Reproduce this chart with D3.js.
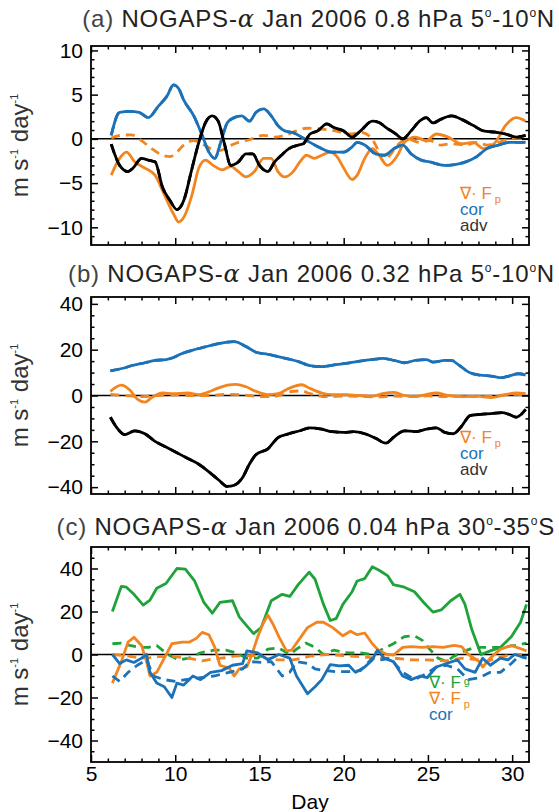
<!DOCTYPE html>
<html>
<head>
<meta charset="utf-8">
<script src="https://cdn.jsdelivr.net/npm/d3@7"></script>
<style>
body { margin: 0; background: #fff; }
text { font-family: "Liberation Sans", Arial, Helvetica, sans-serif; }
</style>
</head>
<body>
<div id="chart"></div>
<script>
var width = 559, height = 812;

// x axis: days of Jan 2006
var dayDomain = [5, 31];
var dayTicks = [5, 10, 15, 20, 25, 30];

// ---- panel (a) 0.8 hPa 5-10N ----
var aCor = [[6.2,0.4],[6.7,3.0],[7.3,3.1],[7.85,3.0],[8.4,2.4],[9.0,3.7],[9.5,4.8],[9.9,6.1],[10.2,5.7],[10.5,4.4],[11.1,2.6],[11.6,0.4],[12.0,-1.5],[12.35,-2.2],[12.7,-0.4],[13.1,1.85],[13.5,2.4],[13.95,2.6],[14.4,2.0],[14.8,3.0],[15.25,3.4],[15.7,2.6],[16.1,1.5],[16.5,0.9],[17.0,0.7],[17.5,0.2],[18.0,-0.4],[18.7,-1.1],[19.3,-1.5],[20.0,-1.5],[20.5,-0.9],[20.8,-0.4],[21.25,-0.7],[21.9,-1.7],[22.4,-1.85],[23.0,-1.1],[23.5,-0.7],[24.0,-1.7],[24.6,-2.4],[25.1,-2.6],[26.0,-3.0],[26.6,-2.9],[27.25,-2.6],[27.9,-2.0],[28.5,-1.1],[29.2,-0.7],[29.8,-0.4],[30.8,-0.4]];
var aAdv = [[6.2,-0.6],[6.7,-3.0],[7.2,-3.7],[7.5,-3.3],[8.0,-2.2],[8.4,-2.4],[8.8,-2.6],[9.25,-5.5],[9.7,-7.0],[10.1,-8.0],[10.5,-7.0],[11.0,-3.3],[11.4,-0.4],[11.8,1.85],[12.2,2.6],[12.55,2.0],[12.9,-0.4],[13.3,-3.0],[13.75,-2.6],[14.2,-1.7],[14.6,-1.7],[15.0,-3.0],[15.5,-3.7],[15.9,-2.6],[16.3,-1.85],[16.75,-1.1],[17.3,-0.7],[17.6,-0.55],[18.0,0.55],[18.45,0.9],[19.0,1.7],[19.4,1.3],[20.0,0.9],[20.5,0.2],[21.0,0.9],[21.7,2.0],[22.1,1.85],[22.5,1.3],[23.1,0.55],[23.5,0.0],[24.0,0.9],[24.5,2.0],[24.9,2.4],[25.3,1.8],[25.75,2.2],[26.4,2.6],[27.0,2.2],[27.7,1.5],[28.3,0.9],[29.0,0.75],[29.6,0.55],[30.25,0.2],[30.8,0.4]];
var aFp = [[6.2,-4.1],[6.7,-2.2],[7.1,-1.5],[7.6,-2.6],[8.2,-3.3],[8.8,-4.1],[9.35,-6.3],[9.9,-8.5],[10.2,-9.4],[10.5,-8.9],[11.0,-6.3],[11.4,-3.3],[11.8,-2.4],[12.25,-3.0],[12.8,-3.5],[13.3,-3.1],[13.75,-3.7],[14.2,-4.3],[14.7,-3.7],[15.25,-2.2],[15.7,-2.2],[16.1,-3.7],[16.5,-4.3],[17.0,-3.7],[17.4,-2.6],[17.8,-1.85],[18.25,-2.2],[18.7,-1.85],[19.2,-1.5],[19.6,-2.0],[20.0,-3.3],[20.5,-4.6],[20.8,-4.1],[21.25,-2.2],[21.7,-1.1],[22.1,-1.85],[22.6,-3.0],[23.2,-1.85],[23.6,-0.4],[24.25,0.2],[24.9,-0.2],[25.5,0.55],[26.2,0.2],[27.0,-0.55],[27.7,-0.4],[28.3,-1.1],[29.0,-0.4],[29.6,1.5],[30.25,2.4],[30.8,2.0]];
var aFpDash = [[6.2,0.1],[6.8,0.4],[7.4,0.45],[8.0,-0.2],[8.6,-1.1],[9.25,-1.85],[9.7,-2.0],[10.1,-1.5],[10.5,-0.7],[11.1,-0.2],[11.6,-0.55],[12.1,-1.1],[12.7,-1.3],[13.1,-0.9],[13.75,-0.4],[14.4,-0.1],[15.25,0.4],[15.9,0.2],[16.5,0.4],[17.2,0.9],[17.8,1.2],[18.7,1.1],[19.5,0.9],[20.4,0.55],[21.0,0.75],[21.6,0.2],[22.0,-1.1],[22.4,-2.6],[22.75,-1.85],[23.2,-0.7],[23.8,0.0],[24.5,-0.4],[25.1,-0.2],[25.75,-0.7],[26.4,-0.55],[27.25,-0.7],[27.9,-0.4],[28.5,-0.7],[29.2,-0.4],[29.8,0.0],[30.5,0.2],[30.8,0.0]];

// ---- panel (b) 0.32 hPa 5-10N ----
var bCor = [[6.15,10.8],[6.9,11.9],[7.5,13.2],[8.2,14.3],[8.8,15.3],[9.45,15.7],[9.9,16.6],[10.3,18.0],[11.0,19.7],[11.6,20.9],[12.25,22.1],[12.9,23.1],[13.5,23.5],[14.2,21.4],[14.8,18.9],[15.5,18.0],[16.1,17.0],[16.75,15.9],[17.4,14.6],[18.0,13.0],[18.7,12.6],[19.3,13.2],[20.0,13.9],[20.6,14.6],[21.25,15.3],[21.9,15.9],[22.3,16.2],[23.0,15.3],[23.6,14.3],[24.25,15.3],[24.9,15.7],[25.3,14.6],[26.0,15.3],[26.4,15.3],[26.8,13.5],[27.5,9.9],[28.1,8.9],[28.75,8.5],[29.4,7.8],[29.8,8.5],[30.4,9.5],[30.8,8.9]];
var bAdv = [[6.15,-9.5],[6.6,-14.7],[7.0,-17.1],[7.6,-15.4],[8.2,-16.7],[8.8,-20.0],[9.45,-22.5],[10.1,-25.0],[10.75,-27.5],[11.4,-30.0],[12.0,-33.3],[12.6,-37.0],[13.1,-39.7],[13.5,-39.2],[14.0,-35.8],[14.4,-30.0],[14.8,-25.8],[15.5,-23.3],[16.1,-18.4],[16.75,-16.7],[17.4,-15.4],[18.0,-14.1],[18.7,-14.7],[19.3,-15.8],[20.0,-16.1],[20.6,-15.8],[21.25,-16.7],[21.9,-18.7],[22.5,-20.8],[23.0,-18.0],[23.6,-15.4],[24.25,-15.8],[24.9,-14.7],[25.5,-14.1],[26.0,-16.1],[26.5,-16.7],[27.0,-13.4],[27.5,-8.8],[28.1,-8.2],[28.75,-7.9],[29.4,-7.5],[29.8,-8.2],[30.25,-9.5],[30.8,-6.1]];
var bFp = [[6.15,1.8],[6.8,4.5],[7.3,2.4],[7.75,-1.6],[8.2,-2.9],[8.6,-0.9],[9.25,1.1],[9.9,0.8],[10.75,1.1],[11.4,0.4],[11.8,1.1],[12.5,3.1],[13.1,4.5],[13.6,4.9],[14.2,3.8],[14.8,1.8],[15.5,0.4],[16.1,0.8],[16.75,3.1],[17.5,4.7],[18.0,3.1],[18.7,1.1],[19.3,0.4],[20.2,0.4],[20.8,0.0],[21.7,-0.3],[22.3,0.8],[23.0,1.4],[23.6,0.0],[24.25,-0.5],[24.9,0.4],[25.5,1.1],[26.2,0.0],[27.0,-0.5],[27.9,-0.3],[28.75,-0.9],[29.6,0.4],[30.25,1.1],[30.8,0.8]];
var bFpDash = [[6.15,0.5],[7.0,0.0],[8.0,-0.5],[9.0,0.0],[10.0,0.3],[11.0,0.0],[12.0,0.0],[13.0,0.5],[14.0,0.3],[15.0,-0.5],[16.0,-0.3],[16.75,1.5],[17.5,2.0],[18.0,0.8],[19.0,-0.5],[20.0,-0.3],[21.0,-0.4],[22.0,-0.6],[23.0,-0.3],[24.0,-0.5],[25.0,-0.2],[26.0,-0.5],[27.0,-0.3],[28.0,-0.5],[29.0,-0.2],[30.0,0.5],[30.8,0.3]];

// ---- panel (c) 0.04 hPa 30-35S ----
var cFg = [[6.27,20.0],[6.8,31.7],[7.1,31.3],[7.55,28.0],[8.1,23.0],[8.5,25.3],[8.9,30.8],[9.45,33.0],[10.1,40.0],[10.6,39.7],[11.15,34.2],[11.7,24.2],[12.2,19.2],[12.65,24.2],[13.4,25.0],[13.8,17.5],[14.25,13.3],[14.65,9.7],[15.1,12.5],[15.7,25.0],[16.35,28.0],[16.8,27.0],[17.3,32.5],[17.95,38.3],[18.3,35.0],[18.8,23.3],[19.2,15.8],[19.55,16.7],[19.95,23.3],[20.5,29.2],[20.8,34.2],[21.25,35.3],[21.7,40.8],[22.1,39.2],[22.6,36.7],[22.95,32.5],[23.6,31.3],[24.2,29.2],[24.75,24.2],[25.3,19.7],[25.8,20.8],[26.35,25.0],[26.9,28.0],[27.2,23.3],[27.6,11.7],[28.15,0.0],[28.7,1.7],[29.3,3.3],[29.95,8.3],[30.5,15.0],[30.85,23.3]];
var cFgDash = [[6.27,5.0],[6.8,5.3],[7.3,4.2],[7.9,3.3],[8.4,3.3],[8.9,4.2],[9.55,0.0],[10.2,-2.5],[10.8,-1.7],[11.5,0.8],[12.3,2.0],[13.0,2.0],[13.6,0.8],[14.25,-1.7],[14.9,-1.7],[15.5,2.5],[16.15,3.0],[16.8,0.0],[17.2,2.5],[17.75,5.3],[18.3,3.3],[18.8,0.0],[19.4,2.0],[20.2,0.8],[21.0,0.8],[21.7,0.0],[22.3,2.5],[22.95,5.0],[23.6,8.3],[24.2,8.7],[24.65,6.7],[25.1,2.5],[25.6,-1.7],[26.1,-3.3],[26.55,-0.8],[27.2,1.7],[27.8,3.3],[28.5,3.3],[29.3,3.3],[30.2,4.2],[30.85,5.3]];
var cFp = [[6.27,-13.3],[6.8,-3.3],[7.2,5.8],[7.55,8.0],[8.0,4.2],[8.3,-3.3],[8.5,-10.0],[8.9,-8.3],[9.35,-1.7],[9.8,5.0],[10.4,5.8],[10.85,5.8],[11.25,7.5],[11.6,10.3],[12.0,9.2],[12.35,3.3],[12.65,-5.0],[13.2,-6.3],[13.5,-10.0],[13.8,-6.7],[14.25,-5.8],[14.55,0.0],[14.9,8.3],[15.2,14.2],[15.5,18.3],[15.8,14.2],[16.15,8.3],[16.6,1.7],[16.9,2.0],[17.4,7.5],[17.85,12.5],[18.4,15.0],[18.8,15.0],[19.35,12.5],[19.95,8.7],[20.4,10.8],[20.8,9.2],[21.25,10.0],[21.7,5.0],[22.1,1.7],[22.6,0.0],[22.95,-0.3],[23.5,3.3],[24.0,3.7],[24.65,3.3],[25.3,3.7],[25.9,3.3],[26.55,4.2],[27.0,3.7],[27.4,0.0],[28.05,-3.3],[28.25,-5.8],[28.7,-1.7],[29.3,2.5],[29.95,4.2],[30.4,3.0],[30.85,1.7]];
var cFpDash = [[6.27,0.0],[7.0,-0.5],[8.0,-1.7],[8.5,-1.5],[9.0,-1.0],[10.0,-1.0],[11.0,-2.0],[11.6,-3.0],[12.3,-2.0],[13.0,-1.5],[13.5,-0.8],[14.2,-0.5],[15.0,-0.5],[15.5,-2.0],[16.1,-2.5],[17.0,-2.5],[17.5,-1.7],[18.0,-0.8],[19.0,0.0],[20.0,-0.5],[21.0,-1.0],[22.0,-1.7],[23.0,-1.7],[24.0,-2.5],[25.0,-2.5],[26.0,-3.0],[27.0,-1.7],[28.0,-2.5],[28.5,-3.3],[29.0,-1.7],[30.0,0.0],[30.85,0.0]];
var cCor = [[6.27,0.0],[6.7,-4.2],[7.1,-2.5],[7.55,-3.7],[8.0,-1.7],[8.3,0.0],[8.5,-8.3],[8.9,-13.3],[9.35,-15.0],[9.8,-20.0],[10.1,-13.3],[10.5,-14.2],[11.05,-10.0],[11.5,-11.7],[12.1,-8.3],[12.75,-7.5],[13.4,-5.0],[14.0,-4.2],[14.25,1.7],[14.9,0.8],[15.5,-2.5],[16.15,0.0],[16.8,-1.7],[17.2,-10.0],[17.85,-18.3],[18.3,-15.0],[18.7,-11.7],[19.2,-4.7],[19.75,-5.3],[20.3,-5.0],[20.7,-8.3],[21.25,-5.8],[21.7,-2.5],[22.0,2.0],[22.4,-1.7],[22.95,-3.3],[23.5,-10.0],[24.0,-11.7],[24.55,-10.0],[24.95,-10.8],[25.5,-5.8],[26.1,-4.2],[26.75,-2.5],[27.2,-6.7],[27.8,-8.3],[28.25,-1.7],[28.7,-5.0],[29.3,-1.7],[29.75,-2.5],[30.15,0.0],[30.85,-1.7]];
var cCorDash = [[6.27,-10.0],[6.7,-12.5],[7.2,-8.3],[7.75,-5.0],[8.3,-2.5],[8.7,-10.0],[9.35,-11.7],[10.0,-12.5],[10.6,-11.7],[11.5,-10.8],[12.3,-10.0],[13.2,-8.3],[14.0,-6.7],[14.45,-3.3],[15.1,-3.7],[15.7,-3.3],[16.35,-10.0],[16.8,-8.3],[17.2,-3.3],[17.85,-4.2],[18.3,-6.7],[18.9,-7.5],[19.55,-8.0],[20.3,-8.0],[21.0,-7.5],[21.7,-1.7],[22.2,-2.5],[22.75,-1.7],[23.5,-8.3],[24.2,-11.7],[24.85,-9.2],[25.5,-5.8],[26.1,-5.0],[26.75,-6.7],[27.4,-11.7],[28.05,-10.8],[28.7,-8.3],[29.3,-8.3],[29.95,-4.2],[30.4,-0.8],[30.85,-1.7]];

var orange = "#f2851f", blue = "#1b72b8", green = "#1ea33a", black = "#000";

var panels = [
	{ tag: "(a)", level: "0.8 hPa", lat: ["5", "-10", "N"], top: 46, bottom: 245, titleY: 27,
		yDomain: [-12, 10.5], yTicks: [-10, -5, 0, 5, 10], yMinor: 1, curve: d3.curveMonotoneX,
		lines: [[aFp, orange, false], [aFpDash, orange, true], [aCor, blue, false], [aCor, blue, true],
			[aAdv, black, false], [aAdv, black, true]],
		legend: { x: 460, y: 199, items: [["fp", orange], ["cor", blue], ["adv", "#333"]] } },
	{ tag: "(b)", level: "0.32 hPa", lat: ["5", "-10", "N"], top: 297, bottom: 494, titleY: 282,
		yDomain: [-43, 43], yTicks: [-40, -20, 0, 20, 40], yMinor: 5, curve: d3.curveMonotoneX,
		lines: [[bFp, orange, false], [bFpDash, orange, true], [bCor, blue, false], [bCor, blue, true],
			[bAdv, black, false], [bAdv, black, true]],
		legend: { x: 460, y: 443, items: [["fp", orange], ["cor", blue], ["adv", "#333"]] } },
	{ tag: "(c)", level: "0.04 hPa", lat: ["30", "-35", "S"], top: 547, bottom: 762, titleY: 535,
		yDomain: [-50, 50], yTicks: [-40, -20, 0, 20, 40], yMinor: 5, curve: d3.curveLinear,
		lines: [[cFg, green, false], [cFgDash, green, true], [cFp, orange, false], [cFpDash, orange, true],
			[cCor, blue, false], [cCorDash, blue, true]],
		legend: { x: 429, y: 688, items: [["fg", green], ["fp", orange], ["cor", blue]] } }
];

var left = 91, right = 529;
var x = d3.scaleLinear().domain(dayDomain).range([left, right]);

var svg = d3.select("#chart").append("svg").attr("width", width).attr("height", height);

panels.forEach(function(p, i) {
	var y = d3.scaleLinear().domain(p.yDomain).range([p.bottom, p.top]);
	var g = svg.append("g");

	// title
	var t = g.append("text").attr("x", 555).attr("y", p.titleY).attr("text-anchor", "end")
		.attr("font-size", 24).attr("letter-spacing", 0.8).attr("fill", "#222");
	t.append("tspan").attr("fill", "#444").text(p.tag);
	t.append("tspan").text(" NOGAPS-");
	t.append("tspan").attr("font-family", "DejaVu Serif, serif").attr("font-style", "italic").text("\u03b1");
	t.append("tspan").text(" Jan 2006 " + p.level + " " + p.lat[0]);
	t.append("tspan").attr("font-size", 12).attr("dy", -10).text("o");
	t.append("tspan").attr("dy", 10).text(p.lat[1]);
	t.append("tspan").attr("font-size", 12).attr("dy", -10).text("o");
	t.append("tspan").attr("dy", 10).text(p.lat[2]);

	// y label
	var yl = g.append("text").attr("transform", "translate(28," + ((p.top + p.bottom) / 2) + ")rotate(-90)")
		.attr("text-anchor", "middle").attr("font-size", 24).attr("fill", "#333");
	yl.append("tspan").text("m s");
	yl.append("tspan").attr("font-size", 11).attr("dy", -10).text("-1");
	yl.append("tspan").attr("dy", 10).text(" day");
	yl.append("tspan").attr("font-size", 11).attr("dy", -10).text("-1");

	// clip
	g.append("clipPath").attr("id", "clip" + i).append("rect")
		.attr("x", left).attr("y", p.top).attr("width", right - left).attr("height", p.bottom - p.top);

	// zero line
	g.append("line").attr("x1", left).attr("x2", right).attr("y1", y(0)).attr("y2", y(0))
		.attr("stroke", "#000").attr("stroke-width", 1.5);

	var line = d3.line().x(function(d) { return x(d[0]); }).y(function(d) { return y(d[1]); }).curve(p.curve);
	var lg = g.append("g").attr("clip-path", "url(#clip" + i + ")");
	p.lines.forEach(function(l) {
		lg.append("path").attr("d", line(l[0])).attr("fill", "none").attr("stroke", l[1])
			.attr("stroke-width", 2.8).attr("stroke-linejoin", "round")
			.attr("stroke-dasharray", l[2] ? "9,6" : null);
	});

	// axes, ticks pointing inward
	var xMinor = d3.range(6, 31).filter(function(d) { return d % 5 !== 0; });
	var yMinor = d3.range(Math.ceil(p.yDomain[0] / p.yMinor) * p.yMinor, p.yDomain[1], p.yMinor)
		.filter(function(d) { return p.yTicks.indexOf(d) < 0 && d > p.yDomain[0] && d < p.yDomain[1]; });
	var isLast = i === panels.length - 1;

	function styleAxis(sel) {
		sel.select(".domain").remove();
		sel.selectAll("line").attr("stroke", "#000").attr("stroke-width", 1.5);
		sel.selectAll("text").attr("font-size", 21).attr("fill", "#000")
			.attr("font-family", "Liberation Sans, Arial, sans-serif");
	}

	g.append("g").attr("transform", "translate(" + left + ",0)")
		.call(d3.axisLeft(y).tickValues(p.yTicks).tickSize(-7).tickPadding(8).tickFormat(d3.format("d")))
		.call(styleAxis);
	g.append("g").attr("transform", "translate(" + left + ",0)")
		.call(d3.axisLeft(y).tickValues(yMinor).tickSize(-3.5).tickFormat("")).call(styleAxis);
	g.append("g").attr("transform", "translate(" + right + ",0)")
		.call(d3.axisRight(y).tickValues(p.yTicks).tickSize(-7).tickFormat("")).call(styleAxis);
	g.append("g").attr("transform", "translate(" + right + ",0)")
		.call(d3.axisRight(y).tickValues(yMinor).tickSize(-3.5).tickFormat("")).call(styleAxis);
	g.append("g").attr("transform", "translate(0," + p.top + ")")
		.call(d3.axisTop(x).tickValues(dayTicks).tickSize(-7).tickFormat("")).call(styleAxis);
	g.append("g").attr("transform", "translate(0," + p.top + ")")
		.call(d3.axisTop(x).tickValues(xMinor).tickSize(-3.5).tickFormat("")).call(styleAxis);
	g.append("g").attr("transform", "translate(0," + p.bottom + ")")
		.call(d3.axisBottom(x).tickValues(dayTicks).tickSize(-7).tickPadding(4)
			.tickFormat(isLast ? d3.format("d") : "")).call(styleAxis);
	g.append("g").attr("transform", "translate(0," + p.bottom + ")")
		.call(d3.axisBottom(x).tickValues(xMinor).tickSize(-3.5).tickFormat("")).call(styleAxis);

	// box
	g.append("rect").attr("x", left).attr("y", p.top).attr("width", right - left)
		.attr("height", p.bottom - p.top).attr("fill", "none").attr("stroke", "#000").attr("stroke-width", 1.8);

	// legend
	p.legend.items.forEach(function(it, k) {
		var lt = g.append("text").attr("x", p.legend.x).attr("y", p.legend.y + k * 16)
			.attr("font-size", 17).attr("fill", it[1]);
		if (it[0] === "cor" || it[0] === "adv") {
			lt.text(it[0]);
		} else {
			lt.append("tspan").text("\u2207\u00b7 F");
			lt.append("tspan").attr("font-size", 11).attr("dx", 3)
				.attr("dy", it[0] === "fg" ? -3 : 4).text(it[0] === "fg" ? "g" : "p");
		}
	});
});

svg.append("text").attr("x", (left + right) / 2).attr("y", 809).attr("text-anchor", "middle")
	.attr("font-size", 21).attr("fill", "#000").text("Day");
</script>
</body>
</html>
